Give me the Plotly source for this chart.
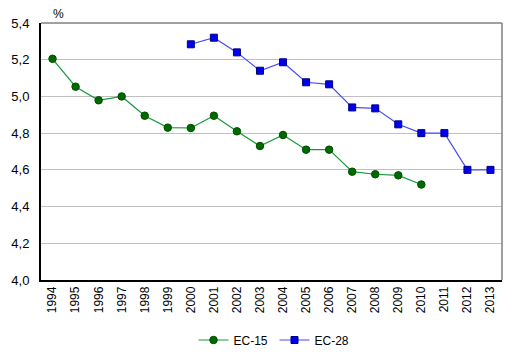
import plotly.graph_objects as go

years = [str(y) for y in range(1994, 2014)]
ec15 = [5.205, 5.053, 4.979, 5.0, 4.895, 4.83, 4.828, 4.895, 4.81, 4.73,
        4.79, 4.71, 4.71, 4.59, 4.576, 4.57, 4.52, None, None, None]
ec28 = [None, None, None, None, None, None, 5.284, 5.32, 5.24, 5.14,
        5.186, 5.077, 5.066, 4.94, 4.935, 4.848, 4.80, 4.80, 4.60, 4.60]

W, H = 508, 347  # page body has an 8px margin

fig = go.Figure()
fig.add_trace(go.Scatter(
    x=years, y=ec15, name="EC-15", mode="lines+markers",
    line=dict(color="#1a9a3a", width=1.2),
    marker=dict(symbol="circle", size=7.5, color="#006a00", line=dict(color="#004d00", width=1)),
    connectgaps=False))
fig.add_trace(go.Scatter(
    x=years, y=ec28, name="EC-28", mode="lines+markers",
    line=dict(color="#4b4bff", width=1.2),
    marker=dict(symbol="square", size=7, color="#0000ee", line=dict(color="#000080", width=1)),
    connectgaps=False))

fig.update_layout(
    width=W, height=H,
    margin=dict(l=33, r=14, t=15, b=75),
    paper_bgcolor="white", plot_bgcolor="white",
    separators=", ",
    font=dict(family="Liberation Sans, Arial, sans-serif", size=12, color="black"),
    showlegend=True,
    legend=dict(orientation="h", x=266.5 / W, xanchor="center", xref="container",
                y=(H - 332) / H, yanchor="middle", yref="container",
                font=dict(size=12), itemwidth=30, tracegroupgap=0,
                entrywidth=36, entrywidthmode="pixels"),
    xaxis=dict(type="category", range=[-0.5, 19.5], tickangle=-90, automargin=False,
               tickfont=dict(size=12), showgrid=False, showline=True,
               linecolor="black", linewidth=1.5, ticks="", fixedrange=True),
    yaxis=dict(range=[4.0, 5.4], dtick=0.2, tickformat=".1f", showgrid=True,
               automargin=False,
               gridcolor="#c0c0c0", gridwidth=1, showline=True,
               linecolor="black", linewidth=1.5, ticks="", zeroline=False,
               tickfont=dict(size=13), ticksuffix="  "),
    shapes=[
        dict(type="line", xref="paper", yref="paper", x0=0, x1=1, y0=1, y1=1,
             line=dict(color="#808080", width=1.5)),
        dict(type="line", xref="paper", yref="paper", x0=1, x1=1, y0=0, y1=1,
             line=dict(color="#808080", width=1.5)),
    ],
    annotations=[dict(text="%", xref="paper", yref="paper", x=0.039, y=1,
                      xanchor="center", yanchor="middle", yshift=9, showarrow=False,
                      font=dict(size=12))],
)

fig.write_html("out.html")
